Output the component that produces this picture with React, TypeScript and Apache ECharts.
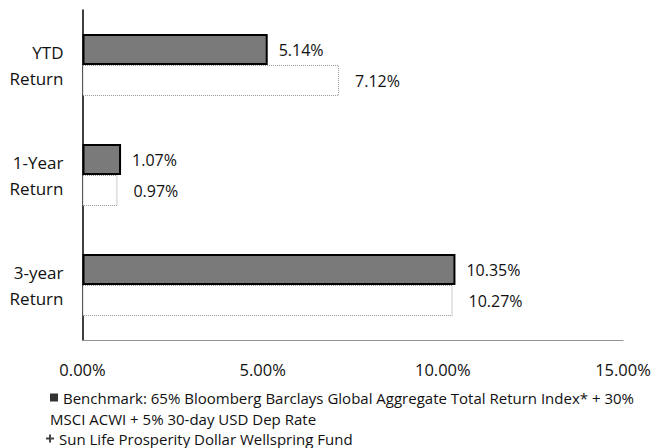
import React, { useEffect, useRef } from "react";
import * as echarts from "echarts";

const categories = ["YTD\nReturn", "1-Year\nReturn", "3-year\nReturn"];
const benchmarkName =
  "Benchmark: 65% Bloomberg Barclays Global Aggregate Total Return Index* + 30% MSCI ACWI + 5% 30-day USD Dep Rate";
const fundName = "Sun Life Prosperity Dollar Wellspring Fund";
const benchmarkValues = [5.14, 1.07, 10.35];
const fundValues = [7.12, 0.97, 10.27];
const xTicks = [0, 5, 10, 15];

const FONT = "'Open Sans', 'Noto Sans', sans-serif";

export default function App() {
  const ref = useRef<HTMLDivElement>(null);
  useEffect(() => {
    if (!ref.current) return;
    const chart = echarts.init(ref.current, null, { renderer: "svg" });
    const legendText = { fontSize: 15, lineHeight: 17, color: "#111", fontFamily: FONT };
    chart.setOption({
      animation: false,
      backgroundColor: "#ffffff",
      textStyle: { fontFamily: FONT, color: "#111" },
      grid: { left: 82.5, right: 32, top: 10, bottom: 108, containLabel: false },
      xAxis: {
        type: "value",
        min: xTicks[0],
        max: xTicks[xTicks.length - 1],
        interval: 5,
        splitLine: { show: false },
        axisTick: { show: false },
        axisLine: { show: true, lineStyle: { color: "#888", type: "dotted", width: 1 } },
        axisLabel: {
          margin: 21,
          fontSize: 16.5,
          color: "#111",
          fontFamily: FONT,
          formatter: (v: number) => v.toFixed(2) + "%",
        },
      },
      yAxis: {
        type: "category",
        data: categories,
        inverse: true,
        axisTick: { show: false },
        axisLine: { show: true, lineStyle: { color: "#000", width: 1.5 } },
        axisLabel: {
          margin: 19,
          fontSize: 17,
          lineHeight: 26,
          align: "right",
          color: "#111",
          fontFamily: FONT,
        },
      },
      legend: [
        {
          orient: "horizontal",
          left: 50,
          top: 389,
          padding: 0,
          itemWidth: 8,
          itemHeight: 8,
          itemGap: 4,
          selectedMode: false,
          textStyle: legendText,
          formatter: () => "Benchmark: 65% Bloomberg Barclays Global Aggregate Total Return Index* + 30%",
          data: [{ name: benchmarkName, icon: "rect", itemStyle: { color: "#333", borderWidth: 0 } }],
        },
        {
          orient: "horizontal",
          left: 46,
          top: 430,
          padding: 0,
          itemWidth: 8,
          itemHeight: 8,
          selectedMode: false,
          textStyle: legendText,
          data: [
            {
              name: fundName,
              icon: "path://M3,0H5V3H8V5H5V8H3V5H0V3H3Z",
              itemStyle: { color: "#444", borderWidth: 0 },
            },
          ],
        },
      ],
      graphic: [
        {
          type: "text",
          left: 50,
          top: 411,
          style: {
            text: "MSCI ACWI + 5% 30-day USD Dep Rate",
            fontSize: 15,
            fontFamily: FONT,
            fill: "#111",
          },
        },
      ],
      series: [
        {
          name: benchmarkName,
          type: "bar",
          data: benchmarkValues,
          barWidth: 31,
          barGap: "0%",
          itemStyle: { color: "#7a7a7a", borderColor: "#000", borderWidth: 2 },
          label: {
            show: true,
            position: "right",
            distance: 11,
            fontSize: 16,
            color: "#111",
            fontFamily: FONT,
            formatter: (p: any) => p.value.toFixed(2) + "%",
          },
        },
        {
          name: fundName,
          type: "bar",
          data: fundValues,
          barWidth: 31,
          barGap: "0%",
          itemStyle: { color: "#ffffff", borderColor: "#999", borderWidth: 1, borderType: "dotted" },
          label: {
            show: true,
            position: "right",
            distance: 16,
            fontSize: 16,
            color: "#111",
            fontFamily: FONT,
            formatter: (p: any) => p.value.toFixed(2) + "%",
          },
        },
      ],
    });
    return () => chart.dispose();
  }, []);
  return (
    <div
      ref={ref}
      style={{ position: "fixed", left: 0, top: 0, width: 655, height: 448, background: "#fff" }}
    />
  );
}
